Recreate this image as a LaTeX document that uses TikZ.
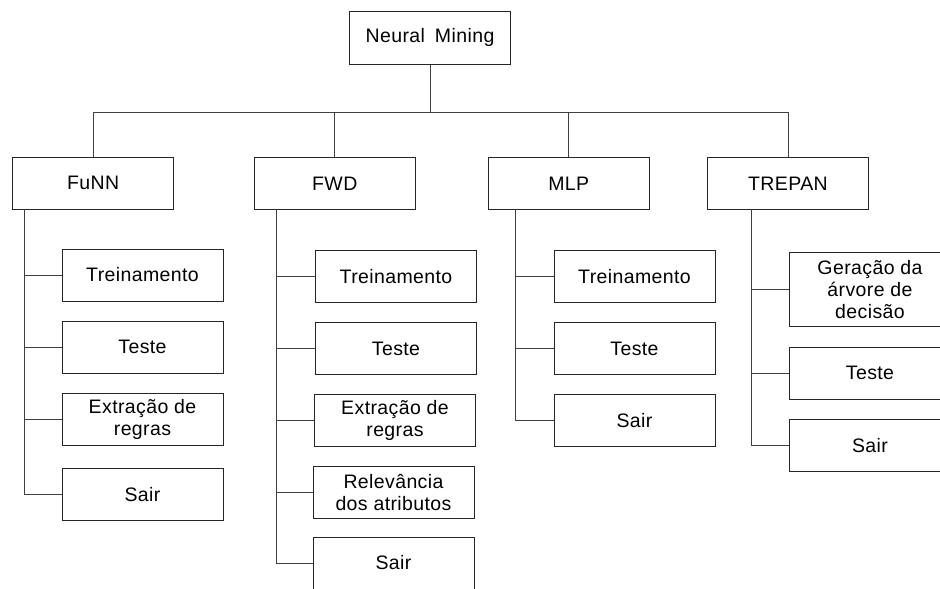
\documentclass[tikz,border=0pt]{standalone}
\usepackage{fontspec}
\setmainfont{Liberation Sans}[LetterSpace=2]
\begin{document}
\begin{tikzpicture}[x=1pt,y=-1pt,
  box/.style={draw=black!85, line width=1pt, minimum width=161pt, minimum height=52pt,
    inner sep=0pt, align=center, font=\fontsize{19.5}{22}\selectfont},
  link/.style={draw=black!75, line width=1pt}]
\useasboundingbox (0,0) rectangle (940,589);

% root and first level
\node[box, minimum width=161.4pt, minimum height=52.7pt] (root) at (430,37.7) {Neural\hspace{10pt}Mining};
\node[box] (funn)   at (93.2,183.3)  {FuNN};
\node[box] (fwd)    at (334.8,183.3) {FWD};
\node[box] (mlp)    at (568.8,183.3) {MLP};
\node[box] (trepan) at (788,183.3)   {TREPAN};

% FuNN options
\node[box] (f1) at (142.5,275)   {Treinamento};
\node[box] (f2) at (142.5,347.2) {Teste};
\node[box] (f3) at (142.5,419.2) {Extração de\\regras};
\node[box] (f4) at (142.5,494.3) {Sair};

% FWD options
\node[box] (w1) at (396,276.8) {Treinamento};
\node[box] (w2) at (396,348.8) {Teste};
\node[box] (w3) at (395,420.7) {Extração de\\regras};
\node[box] (w4) at (393.5,492.9) {Relevância\\dos atributos};
\node[box] (w5) at (393.5,563) {Sair};

% MLP options
\node[box] (m1) at (634.5,276.8) {Treinamento};
\node[box] (m2) at (634.5,348.8) {Teste};
\node[box] (m3) at (634.5,420.7) {Sair};

% TREPAN options
\node[box, minimum height=73.7pt] (t1) at (870,289.2) {Geração da\\árvore de\\decisão};
\node[box] (t2) at (870,373.3) {Teste};
\node[box] (t3) at (870,445.3) {Sair};

% bus from the root to the first level
\coordinate (bus) at (0,112);
\draw[link] (root.south) -- (root.south |- bus);
\draw[link] (funn.north) -- (funn.north |- bus) -- (trepan.north |- bus) -- (trepan.north);
\draw[link] (fwd.north) -- (fwd.north |- bus);
\draw[link] (mlp.north) -- (mlp.north |- bus);

% trunks feeding each option list
\coordinate (funnT)   at (24,209.3);
\coordinate (fwdT)    at (276,209.3);
\coordinate (mlpT)    at (515.7,209.3);
\coordinate (trepanT) at (751.7,209.3);

\draw[link] (funnT) |- (f4.west);
\foreach \n in {f1,f2,f3} \draw[link] (funnT |- \n.west) -- (\n.west);
\draw[link] (fwdT) |- (w5.west);
\foreach \n in {w1,w2,w3,w4} \draw[link] (fwdT |- \n.west) -- (\n.west);
\draw[link] (mlpT) |- (m3.west);
\foreach \n in {m1,m2} \draw[link] (mlpT |- \n.west) -- (\n.west);
\draw[link] (trepanT) |- (t3.west);
\foreach \n in {t1,t2} \draw[link] (trepanT |- \n.west) -- (\n.west);
\end{tikzpicture}
\end{document}
